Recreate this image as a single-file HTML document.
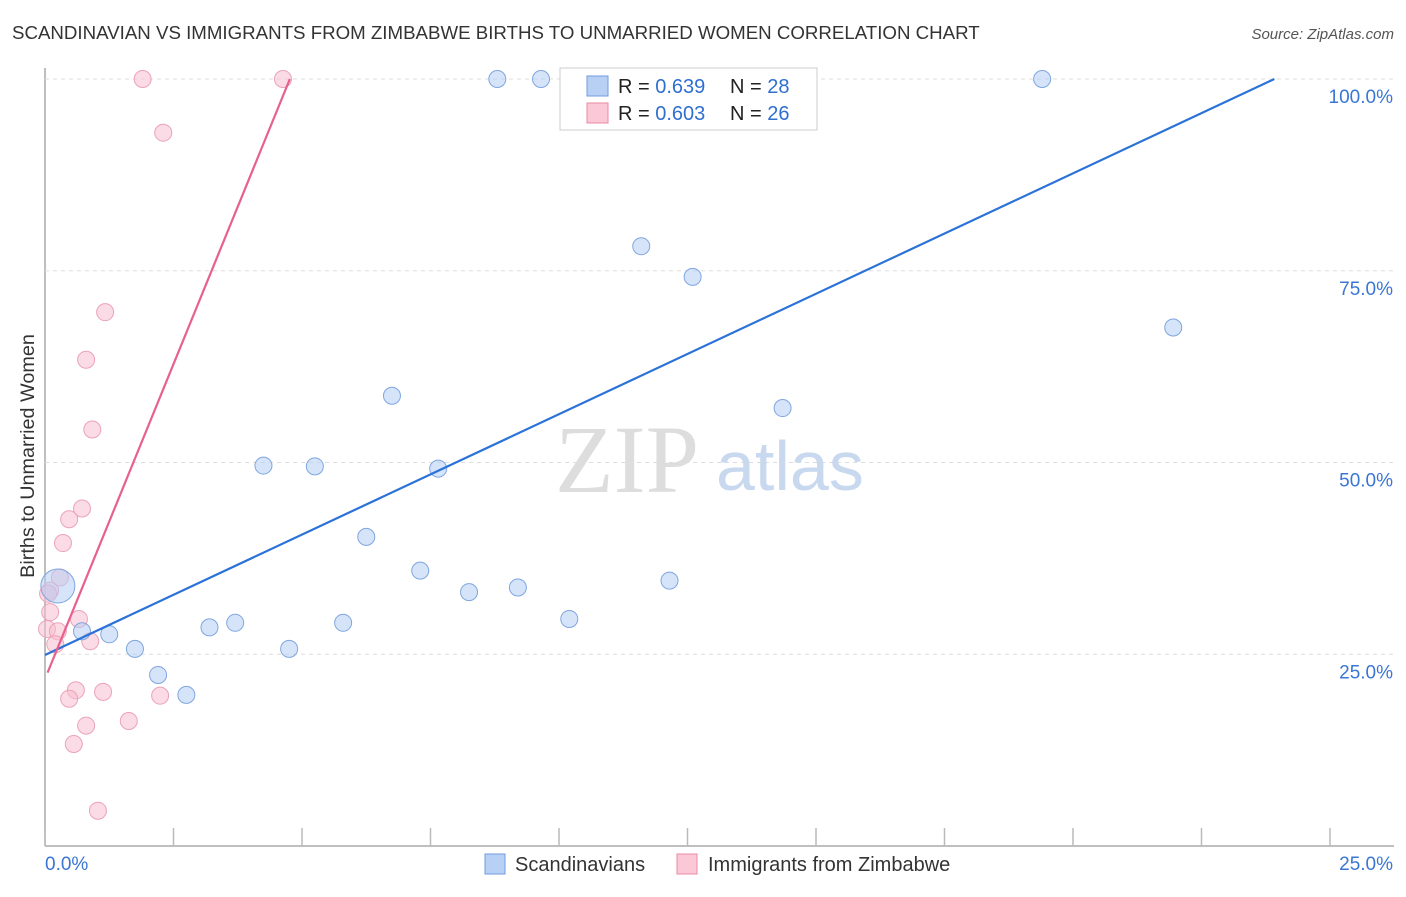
<!DOCTYPE html>
<html><head><meta charset="utf-8"><style>
body{margin:0;background:#fff;font-family:"Liberation Sans",sans-serif;}
svg text{font-family:"Liberation Sans",sans-serif;}
</style></head><body>
<svg id="chart" width="1406" height="892" xmlns="http://www.w3.org/2000/svg">
<text x="12" y="39" font-size="18.7" fill="#333">SCANDINAVIAN VS IMMIGRANTS FROM ZIMBABWE BIRTHS TO UNMARRIED WOMEN CORRELATION CHART</text>
<text x="1394" y="39" font-size="15" fill="#555" text-anchor="end" font-style="italic">Source: ZipAtlas.com</text>
<text transform="translate(34,456) rotate(-90)" font-size="19.8" fill="#333" text-anchor="middle">Births to Unmarried Women</text>
<g id="grid"></g>
<text x="555" y="492" font-size="96" fill="#ddd" style="font-family:'Liberation Serif',serif">ZIP</text>
<text x="716" y="490" font-size="70" fill="#c8d8ef">atlas</text>
<g id="marks"></g>
<g>
<rect x="560" y="68" width="257" height="62" fill="#fff" stroke="#ccc"/>
<rect x="587" y="76" width="21" height="20" fill="#b8d0f4" stroke="#6f9be0"/>
<rect x="587" y="103" width="21" height="20" fill="#fac8d6" stroke="#e88aa6"/>
<text x="618" y="93" font-size="20" fill="#222">R = <tspan fill="#2f6fd0">0.639</tspan><tspan x="730">N = </tspan><tspan fill="#2f6fd0">28</tspan></text>
<text x="618" y="120" font-size="20" fill="#222">R = <tspan fill="#2f6fd0">0.603</tspan><tspan x="730">N = </tspan><tspan fill="#2f6fd0">26</tspan></text>
</g>
<g>
<rect x="485" y="854" width="20" height="20" fill="#b8d0f4" stroke="#6f9be0"/>
<text x="515" y="871" font-size="20" fill="#333">Scandinavians</text>
<rect x="677" y="854" width="20" height="20" fill="#fac8d6" stroke="#e88aa6"/>
<text x="708" y="871" font-size="20" fill="#333">Immigrants from Zimbabwe</text>
</g>
</svg>
<script>
const xTicks=[0,2.5,5,7.5,10,12.5,15,17.5,20,22.5,25];
const yTicks=[25,50,75,100];
const yTickLabels=["25.0%","50.0%","75.0%","100.0%"];
const xEndLabels=["0.0%","25.0%"];
const blueX=[8.8,9.65,19.4,10.75,11.6,12.6,21.95,6.75,14.35,4.25,5.25,7.65,6.25,7.3,8.25,9.2,12.15,10.2,3.2,3.7,5.8,4.75,1.25,0.72,1.75,2.2,2.75,0.25];
const blueY=[100,100,100,99.5,78.2,74.2,67.6,58.7,57.1,49.6,49.5,49.2,40.3,35.9,33.1,33.7,34.6,29.6,28.5,29.1,29.1,25.7,27.6,28.0,25.7,22.3,19.7,33.9];
const pinkX=[1.9,4.63,2.3,1.17,0.8,0.92,0.72,0.47,0.35,0.29,0.1,0.1,0.66,0.04,0.25,0.2,0.88,0.6,1.13,2.24,0.47,1.63,0.8,0.56,1.03,0.06];
const pinkY=[100,100,93,69.6,63.4,54.3,44,42.6,39.5,35,33.3,30.5,29.6,28.3,28.0,26.3,26.7,20.3,20.1,19.6,19.2,16.3,15.7,13.3,4.6,32.9];
const blueFit=[24.9,3.14];
const pinkFit=[23.3,16.1];
const X=v=>45+v*51.4, Y=v=>846-v*7.67;
const NS="http://www.w3.org/2000/svg";
const g=document.getElementById('grid'), m=document.getElementById('marks');
function mk(tag,attrs,parent){const e=document.createElementNS(NS,tag);for(const k in attrs)e.setAttribute(k,attrs[k]);parent.appendChild(e);return e;}
let ax=mk('line',{x1:45,y1:68,x2:45,y2:846,stroke:'#aaa','stroke-width':1.5},g);


let bx=mk('line',{x1:45,y1:846,x2:1394,y2:846,stroke:'#aaa','stroke-width':1.5},g);


yTicks.forEach((t,i)=>{
 const l=mk('line',{x1:45,y1:Y(t),x2:1394,y2:Y(t),stroke:'#ddd','stroke-dasharray':'4,4'},g);
 
 
 const tx=mk('text',{x:1393,y:Y(t)+24,'font-size':19,fill:'#3a76d4','text-anchor':'end'},g);
 tx.textContent=yTickLabels[i];
 
 
});
xTicks.forEach(t=>{
 const l=mk('line',{x1:X(t),y1:828,x2:X(t),y2:846,stroke:'#bbb','stroke-width':1.5},g);
 
 
});
[[0,45,'start'],[25,1393,'end']].forEach((d,i)=>{
 const tx=mk('text',{x:d[1],y:870,'font-size':19,fill:'#3a76d4','text-anchor':d[2]},g);
 tx.textContent=xEndLabels[i];
 
 
});
pinkX.forEach((v,i)=>{
 const c=mk('circle',{cx:X(v),cy:Y(pinkY[i]),r:8.5,fill:'rgba(248,190,208,0.55)',stroke:'#eba3b8','stroke-width':1},m);
 
 
});
blueX.forEach((v,i)=>{
 const big=i===blueX.length-1;
 const c=mk('circle',{cx:X(v),cy:Y(blueY[i]),r:big?17:8.5,fill:'rgba(180,206,244,0.55)',stroke:'#7fa6e0','stroke-width':1},m);
 
 
});
const bxEnd=(100-blueFit[0])/blueFit[1];
let bl=mk('line',{x1:X(0),y1:Y(blueFit[0]),x2:X(bxEnd),y2:Y(100),stroke:'#2a72d8','stroke-width':2.2},m);


const pxEnd=(100-pinkFit[0])/pinkFit[1];
let pl=mk('line',{x1:X(0.05),y1:Y(pinkFit[0]+pinkFit[1]*0.05-1.5),x2:X(pxEnd),y2:Y(100),stroke:'#e8608d','stroke-width':2.2},m);


</script>
</body></html>
